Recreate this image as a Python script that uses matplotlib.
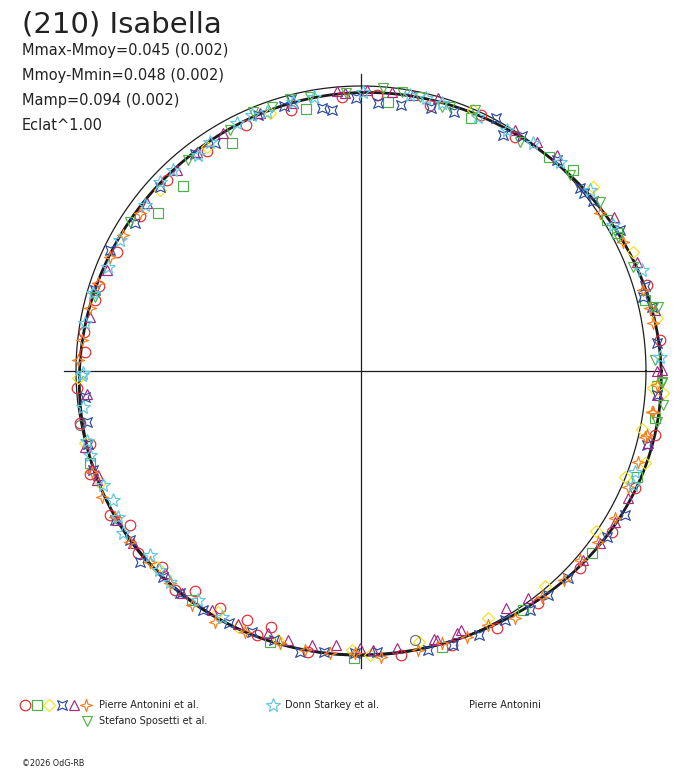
import numpy as np
import matplotlib
matplotlib.use("Agg")
import matplotlib.pyplot as plt
from matplotlib.path import Path

# ---------------- texts ----------------
title = "(210) Isabella"
stats_lines = ["Mmax-Mmoy=0.045 (0.002)", "Mmoy-Mmin=0.048 (0.002)",
               "Mamp=0.094 (0.002)", "Eclat^1.00"]
legend_labels = ["Pierre Antonini et al.", "Donn Starkey et al.",
                 "Pierre Antonini", "Stefano Sposetti et al."]
copyright_text = "\u00a92026 OdG-RB"

# ---------------- fitted light curve (Fourier, relative flux vs phase) ----------------
fit_a0 = 1.00147
fit_cos = [0.02663, 0.01695, 0.00614, 0.00204]
fit_sin = [-0.01568, 0.00456, -0.00614, -0.00102]

# ---------------- observations: phase (deg) and relative flux ----------------
red_phase = [94, 105, 115, 125, 135.5, 145, 154, 162, 165, 172, 176, 183.5, 190.5, 195,
             200.7, 209.8, 213.7, 219.3, 224.5, 229.7, 233, 239.3, 245.3, 248.4, 250.7,
             259.4, 278, 288.3, 297.8, 307.4, 318, 327.3, 336.8, 347.7, 5.9, 16.8, 56.7,
             64.8, 75.5, 86.7]
red_flux = [0.965, 0.949, 0.951, 0.944, 0.954, 0.946, 0.954, 0.968, 0.965, 0.982, 0.972,
            1.000, 1.004, 0.984, 1.018, 1.016, 0.974, 1.011, 0.981, 1.007, 0.968, 0.968,
            0.961, 0.996, 0.951, 1.002, 1.007, 1.014, 1.021, 1.025, 1.035, 1.046, 1.046,
            1.056, 1.054, 1.047, 0.984, 0.993, 0.965, 0.970]

gsq_phase = [119.5, 133.9, 142.1, 101.9, 84.3, 66.5, 48.8, 43.4, 31.6, 28.3, 14, 357,
             350.9, 339, 321.7, 304.2, 286.3, 268.7, 198.8, 233.5, 251.4]
gsq_flux = [0.919, 0.901, 0.902, 0.939, 0.949, 0.969, 0.999, 1.026, 1.012, 1.019, 1.027,
            1.039, 1.045, 1.036, 1.032, 1.014, 1.008, 1.008, 1.005, 0.999, 1.002]

yel_phase = [348.3, 342, 338.2, 325.8, 310.6, 297.1, 282, 271.8, 355.8, 268.1, 252.9,
             244.4, 239.3, 223.8, 203.3, 194.7, 181.5, 138, 124.5, 109.5, 66.7, 38.4,
             23.7, 10.1, 356.6]
yel_flux = [1.006, 1.048, 0.998, 0.997, 0.993, 0.975, 0.971, 0.997, 1.064, 0.980, 0.987,
            0.995, 0.982, 0.993, 0.997, 1.001, 0.992, 0.949, 0.955, 0.959, 0.997, 1.040,
            1.043, 1.054, 1.027]

blu_phase = [104.5, 98.5, 96.4, 91.1, 86.4, 81.5, 75.1, 70.2, 111.9, 106.3, 38.6, 55.6,
             61.8, 36.2, 122.7, 127.4, 137.5, 146.8, 154.3, 163, 185.3, 190.5, 194.9,
             200.3, 211.2, 216.2, 220.8, 226.1, 230.8, 236.6, 242.3, 247.3, 252, 257.7,
             262.4, 268.8, 273.2, 283.6, 288.6, 294, 300, 305.3, 309.9, 315, 326, 331.4,
             345.5, 355.4, 12.5, 5.4, 16.6, 39.8, 47.2, 28.6, 14.7, 58.9]
blu_flux = [0.986, 0.932, 0.921, 0.957, 0.941, 0.944, 0.954, 0.965, 0.968, 0.967, 0.999,
            0.999, 1.006, 1.008, 0.949, 0.960, 0.957, 0.947, 0.978, 0.975, 0.973, 0.979,
            0.990, 1.004, 1.009, 1.004, 1.024, 1.001, 1.006, 1.005, 1.000, 0.992, 0.993,
            1.008, 0.994, 0.991, 0.986, 1.007, 1.014, 1.014, 1.009, 1.027, 1.025, 1.029,
            1.040, 1.055, 1.035, 1.041, 1.045, 1.042, 1.039, 1.001, 1.010, 1.035, 1.024,
            0.967]

pur_phase = [0.2, 355.4, 345.9, 334.5, 329.3, 324.2, 319.6, 306.4, 301.5, 291.2, 285.7,
             277.3, 272.5, 269.8, 259.8, 264.8, 285.2, 290.2, 254.9, 250.5, 244.1, 238,
             231.1, 225.9, 217.1, 211.4, 202.4, 199.9, 168.7, 184.7, 195.3, 201.6, 158.3,
             142, 132.5, 126.8, 120.1, 111.4, 104.2, 93.3, 88.8, 83.7, 79.3, 74.2, 95,
             52.5, 47.8, 31.4, 21.6, 11.7, 57.4, 0.0]
pur_flux = [1.055, 1.047, 1.040, 1.039, 1.036, 1.034, 1.024, 0.990, 0.977, 0.975, 0.980,
            0.981, 0.980, 0.973, 0.977, 0.965, 0.974, 0.978, 0.978, 0.976, 0.985, 0.989,
            1.002, 0.988, 1.002, 1.004, 1.003, 1.005, 0.970, 0.966, 1.004, 0.991, 0.960,
            0.955, 0.957, 0.961, 0.964, 0.971, 0.969, 0.976, 0.986, 0.984, 0.986, 0.994,
            0.986, 1.014, 1.023, 1.038, 1.041, 1.054, 1.004, 1.038]

ora_phase = [352.1, 347, 341.9, 336.6, 329.9, 324.3, 319.2, 314.1, 308.7, 301.9, 296.6,
             291.7, 286.5, 281.6, 274.1, 263.7, 268.8, 258.7, 253.4, 246, 239.8, 234.1,
             228, 222.1, 216.5, 210.6, 205.9, 200.5, 161.5, 167, 173.7, 177.8, 155.5,
             150.2, 144.5, 33.4, 26.2, 9.3, 12.2, 16, 352, 347.4, 357.3]
ora_flux = [1.035, 1.023, 1.024, 1.022, 1.030, 1.026, 1.015, 1.021, 1.014, 1.022, 0.997,
            1.004, 0.996, 0.999, 1.005, 0.996, 0.991, 0.999, 0.997, 1.001, 1.018, 1.013,
            1.002, 0.998, 1.008, 1.003, 1.011, 1.009, 0.972, 0.976, 0.986, 0.993, 0.968,
            0.961, 0.953, 1.005, 1.026, 1.039, 1.038, 1.031, 1.030, 1.027, 1.039]

gtv_phase = [108.7, 104.7, 100.5, 93, 85.6, 81.7, 77.9, 73, 112.6, 118.5, 129.3, 147.1,
             164.4, 71.4, 66.4, 55.3, 43.2, 35.3, 27.6, 21, 12.4, 358, 353.6, 350.3,
             12.2, 2.1, 357.7]
gtv_flux = [0.979, 0.986, 0.979, 0.976, 0.995, 0.990, 0.985, 0.970, 0.985, 0.962, 0.957,
            0.965, 0.969, 0.979, 0.999, 0.979, 1.005, 1.028, 1.018, 1.023, 1.050, 1.056,
            1.067, 1.053, 1.067, 1.032, 1.056]

cya_phase = [163.8, 157.6, 151.5, 142.5, 136.7, 133, 127, 123.4, 116.6, 113.1, 110, 104.1,
             99.8, 89.5, 79.9, 73.2, 76.5, 65.2, 58.8, 52.9, 46.4, 38.3, 30.1, 19.8, 2.7,
             339.8, 337.3, 180.8, 187.3, 194.4, 197.2, 203.9, 207.5, 211, 214.3, 221.1,
             224.6, 227.8, 234.6, 240.5, 170.2, 180.5]
cya_flux = [0.978, 0.959, 0.962, 0.956, 0.969, 0.965, 0.949, 0.963, 0.972, 0.977, 0.968,
            0.974, 0.977, 0.980, 0.984, 0.981, 0.984, 0.982, 0.988, 1.002, 1.013, 1.024,
            1.023, 1.047, 1.050, 1.024, 1.036, 0.980, 0.982, 0.994, 0.995, 0.989, 0.980,
            0.993, 1.010, 0.982, 0.995, 0.998, 0.986, 0.991, 0.983, 0.974]

gry_phase = [190.9, 281.4]
gry_flux = [1.004, 0.963]

# ---------------- styles ----------------
star4 = Path([(0, 1), (0.24, 0.24), (1, 0), (0.24, -0.24), (0, -1), (-0.24, -0.24),
              (-1, 0), (-0.24, 0.24), (0, 1)], closed=True)
csq = Path([(1, 1), (0, 0.55), (-1, 1), (-0.55, 0), (-1, -1), (0, -0.55), (1, -1),
            (0.55, 0), (1, 1)], closed=True)

series = [
    (red_phase, red_flux, "o", "#e8262e", 7.6),
    (gsq_phase, gsq_flux, "s", "#4cb04a", 7.2),
    (yel_phase, yel_flux, "D", "#f2e41c", 6.2),
    (blu_phase, blu_flux, csq, "#2f4ea0", 7.0),
    (pur_phase, pur_flux, "^", "#a3287f", 7.8),
    (ora_phase, ora_flux, star4, "#f47d20", 8.8),
    (gry_phase, gry_flux, "o", "#707070", 7.2),
    (gtv_phase, gtv_flux, "v", "#52b347", 7.8),
    (cya_phase, cya_flux, "*", "#5fc6e0", 10.0),
]

W, H = 688, 768
fig = plt.figure(figsize=(W / 100, H / 100), dpi=100)
fig.patch.set_facecolor("white")

cx, cy, R = 361, 371, 285  # pixel centre and reference radius
lim = 1.2
ax = fig.add_axes([(cx - lim * R) / W, (H - cy - lim * R) / H, 2 * lim * R / W, 2 * lim * R / H])
ax.set_xlim(-lim, lim)
ax.set_ylim(-lim, lim)
ax.axis("off")

axis_extent = 1.042
ax.plot([-axis_extent, axis_extent], [0, 0], color="#1e1e1e", lw=0.9, zorder=1)
ax.plot([0, 0], [-axis_extent, axis_extent], color="#1e1e1e", lw=0.9, zorder=1)

t = np.linspace(0, 2 * np.pi, 721)
ax.plot(np.cos(t), np.sin(t), color="#1e1e1e", lw=0.9, zorder=1)

rfit = fit_a0 + sum(c * np.cos((k + 1) * t) + s * np.sin((k + 1) * t)
                    for k, (c, s) in enumerate(zip(fit_cos, fit_sin)))
ax.plot(rfit * np.cos(t), rfit * np.sin(t), color="#1a1a1a", lw=2.0, zorder=2)

for ph, fl, mk, col, ms in series:
    th = np.deg2rad(np.asarray(ph, float))
    fl = np.asarray(fl, float)
    ax.plot(fl * np.cos(th), fl * np.sin(th), linestyle="none", marker=mk, ms=ms,
            mfc="none", mec=col, mew=0.85, zorder=3)

# ---------------- texts ----------------
def px(x, y):
    return x / W, 1 - y / H

fig.text(*px(22, 32), title, fontsize=21, color="#222222", family="DejaVu Sans", va="baseline")
for i, line in enumerate(stats_lines):
    fig.text(*px(22, 55 + 25 * i), line, fontsize=10.5, color="#222222",
             family="DejaVu Sans", va="baseline")

# legend (manual, pixel overlay)
lax = fig.add_axes([0, 0, 1, 1])
lax.set_xlim(0, W)
lax.set_ylim(H, 0)
lax.axis("off")
leg_marks_row1 = [("o", "#e8262e", 7.6), ("s", "#4cb04a", 7.2), ("D", "#f2e41c", 6.2),
                  (csq, "#2f4ea0", 7.0), ("^", "#a3287f", 7.8), (star4, "#f47d20", 8.8)]
for i, (mk, col, ms) in enumerate(leg_marks_row1):
    lax.plot([25 + 12.2 * i], [705], marker=mk, ms=ms, mfc="none", mec=col, mew=0.85)
lax.plot([273], [705], marker="*", ms=10, mfc="none", mec="#5fc6e0", mew=0.85)
lax.plot([87], [721], marker="v", ms=7.8, mfc="none", mec="#52b347", mew=0.85)

lt = dict(fontsize=7, color="#222222", family="DejaVu Sans", va="center")
fig.text(*px(99, 705), legend_labels[0], **lt)
fig.text(*px(285, 705), legend_labels[1], **lt)
fig.text(*px(469, 705), legend_labels[2], **lt)
fig.text(*px(99, 721), legend_labels[3], **lt)
fig.text(*px(22, 763), copyright_text, fontsize=5.8, color="#222222", family="DejaVu Sans",
         va="center")

fig.savefig("out.png", dpi=100, facecolor="white")
